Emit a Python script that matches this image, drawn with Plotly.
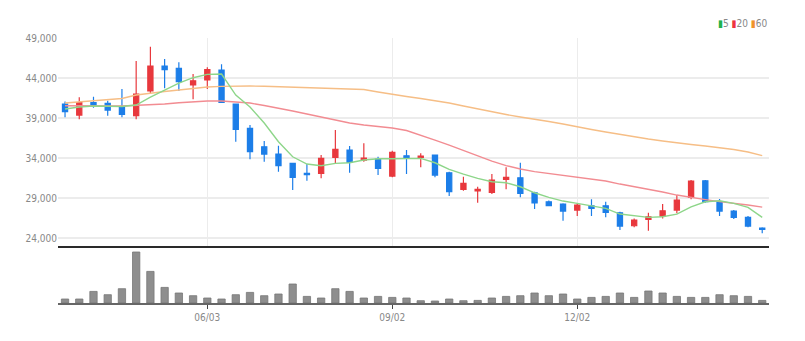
import pandas as pd
import plotly.graph_objects as go

# ---- data ----
dates = pd.date_range("2019-03-25", periods=50, freq="7D")

opens = [40750, 39375, 40920, 40840, 40375, 39290, 42375, 45500, 45210, 43125,
         43750, 45000, 40750, 37710, 35410, 34500, 33340, 32100, 32090, 34090,
         35000, 33750, 33880, 31750, 34290, 34090, 34375, 32160, 30090, 29910,
         29710, 31340, 31540, 29660, 28540, 28250, 27500, 28040, 28040, 27160,
         25540, 26340, 26750, 27500, 29090, 31160, 28540, 27375, 26590, 25250]
highs = [41050, 41590, 41660, 41160, 42625, 46125, 47915, 46375, 45960, 44500,
         45340, 45710, 40800, 38125, 36125, 35540, 33410, 33250, 34375, 37500,
         35500, 35840, 34160, 34910, 35000, 34590, 34375, 32290, 31660, 30410,
         32000, 32840, 33410, 29790, 28710, 28340, 28340, 28840, 28540, 27290,
         26460, 27160, 28250, 29375, 31250, 31250, 28875, 27500, 26750, 25340]
lows = [39100, 38840, 40290, 39290, 39090, 38840, 42000, 42710, 42375, 41340,
        42625, 40900, 36040, 33840, 33540, 32290, 30000, 31160, 31460, 33340,
        32160, 33540, 31880, 31590, 32000, 32840, 31590, 29250, 29910, 28410,
        29500, 30090, 29090, 27625, 28040, 26160, 26750, 26750, 26590, 25000,
        25340, 24910, 26460, 27090, 28840, 28410, 26750, 26375, 25340, 24590]
closes = [39800, 40920, 40625, 40000, 39460, 42000, 45500, 45040, 43540, 43660,
          45040, 40960, 37590, 34790, 34500, 33040, 31590, 31910, 33960, 35090,
          33460, 34000, 32710, 34710, 34040, 34250, 31875, 29790, 30840, 30090,
          31250, 31590, 29590, 28410, 28040, 27375, 28125, 27710, 27210, 25500,
          26250, 26660, 27410, 28750, 31125, 28540, 27375, 26590, 25500, 25090]

ma5 = [40125, 40375, 40500, 40500, 40440, 40625, 41625, 42500, 43375, 44040,
       44460, 44500, 41875, 40375, 38375, 36040, 34160, 33250, 33040, 33340,
       33410, 33750, 33910, 33910, 33960, 33960, 33410, 32590, 32000, 31460,
       31040, 30910, 30410, 29660, 29090, 28625, 28340, 28000, 27710, 27000,
       26750, 26590, 26660, 27000, 27910, 28540, 28660, 28340, 27840, 26590]
ma20 = [40540, 40500, 40500, 40500, 40500, 40560, 40625, 40750, 40910, 41060,
        41125, 41125, 41040, 40875, 40560, 40250, 39875, 39500, 39125, 38750,
        38375, 38125, 37940, 37750, 37440, 36875, 36250, 35625, 34940, 34250,
        33625, 33060, 32625, 32310, 32060, 31810, 31625, 31375, 31125, 30750,
        30440, 30125, 29750, 29375, 29060, 28810, 28560, 28375, 28125, 27875]
ma60 = [40875, 41000, 41125, 41250, 41440, 41875, 42125, 42310, 42500, 42690,
        42875, 42960, 43000, 43000, 42975, 42925, 42875, 42825, 42775, 42710,
        42650, 42560, 42250, 41940, 41690, 41440, 41190, 40875, 40500, 40125,
        39750, 39440, 39125, 38875, 38560, 38250, 37875, 37560, 37250, 36940,
        36625, 36375, 36125, 35875, 35690, 35500, 35310, 35060, 34750, 34310]

volumes = [80000, 80000, 232000, 166000, 286000, 1020000, 632000, 312000, 200000, 146000,
           100000, 80000, 166000, 212000, 146000, 180000, 380000, 132000, 100000, 286000,
           232000, 100000, 132000, 112000, 100000, 46000, 40000, 80000, 46000, 52000,
           100000, 132000, 146000, 200000, 146000, 180000, 80000, 112000, 132000, 200000,
           112000, 240000, 200000, 132000, 112000, 112000, 166000, 146000, 132000, 52000]

price_ticks = [24000, 29000, 34000, 39000, 44000, 49000]
price_tick_labels = ["24,000", "29,000", "34,000", "39,000", "44,000", "49,000"]
date_ticks = ["2019-06-03", "2019-09-02", "2019-12-02"]
date_tick_labels = ["06/03", "09/02", "12/02"]
ma_names = ["5", "20", "60"]

# ---- style ----
RED = "#E8383D"
BLUE = "#1C7EE8"
FONT = "Liberation Sans Narrow, DejaVu Sans Condensed, Arial Narrow, sans-serif"
DAY = 86400000

fig = go.Figure()

for vals, col in [(ma60, "#F6BE86"), (ma20, "#F28C92"), (ma5, "#8ED68A")]:
    fig.add_trace(go.Scatter(x=dates, y=vals, mode="lines",
                             line=dict(color=col, width=1.4),
                             hoverinfo="skip", showlegend=False,
                             xaxis="x", yaxis="y"))

fig.add_trace(go.Candlestick(
    x=dates, open=opens, high=highs, low=lows, close=closes,
    increasing=dict(line=dict(color=RED, width=1.2), fillcolor=RED),
    decreasing=dict(line=dict(color=BLUE, width=1.2), fillcolor=BLUE),
    whiskerwidth=0, showlegend=False, xaxis="x", yaxis="y"))

fig.add_trace(go.Bar(x=dates, y=volumes, width=3.6 * DAY,
                     marker=dict(color="#8E8E8E", line=dict(color="#777777", width=0.8)),
                     showlegend=False, xaxis="x2", yaxis="y2"))

x_range = [dates[0] - pd.Timedelta(hours=83), dates[-1] + pd.Timedelta(hours=80)]
vol_top = volumes[5] * 53 / 51

legend_text = ("<span style='color:#22B14C'>▮</span>" + ma_names[0] + " "
               "<span style='color:#EE3340'>▮</span>" + ma_names[1] + " "
               "<span style='color:#F0922B'>▮</span>" + ma_names[2])

fig.update_layout(
    width=805, height=341,
    margin=dict(l=58, r=36, t=38, b=38),
    paper_bgcolor="white", plot_bgcolor="white",
    font=dict(family=FONT, size=10, color="#888888"),
    boxgap=0.48,
    showlegend=False,
    xaxis=dict(domain=[0, 1], anchor="y", type="date", range=x_range,
               tickvals=date_ticks, ticktext=date_tick_labels,
               showticklabels=False, showgrid=True, gridcolor="#ECECEC", gridwidth=1,
               showline=True, linecolor="#2A2A2A", linewidth=2,
               zeroline=False, rangeslider=dict(visible=False), ticks=""),
    yaxis=dict(domain=[0.216, 1], anchor="x", range=[23040, 49000],
               tickvals=price_ticks, ticktext=price_tick_labels,
               showgrid=True, gridcolor="#ECECEC", gridwidth=1.5,
               zeroline=False, showline=False, ticks="",
               tickfont=dict(size=10, color="#888888")),
    xaxis2=dict(domain=[0, 1], anchor="y2", type="date", range=x_range,
                tickvals=date_ticks, ticktext=date_tick_labels,
                showgrid=False, showline=True, linecolor="#666666", linewidth=2,
                ticks="outside", ticklen=4, tickcolor="#444444", tickwidth=1,
                tickfont=dict(size=10, color="#888888"), zeroline=False),
    yaxis2=dict(domain=[0, 0.2], anchor="x2", range=[0, vol_top],
                showgrid=False, showticklabels=False, zeroline=False,
                showline=False, ticks=""),
    annotations=[dict(text=legend_text, xref="paper", yref="paper",
                      x=1.0, y=1.053, xanchor="right", yanchor="middle",
                      showarrow=False, font=dict(size=10, color="#888888", family=FONT))],
)

fig.write_html("out.html")
